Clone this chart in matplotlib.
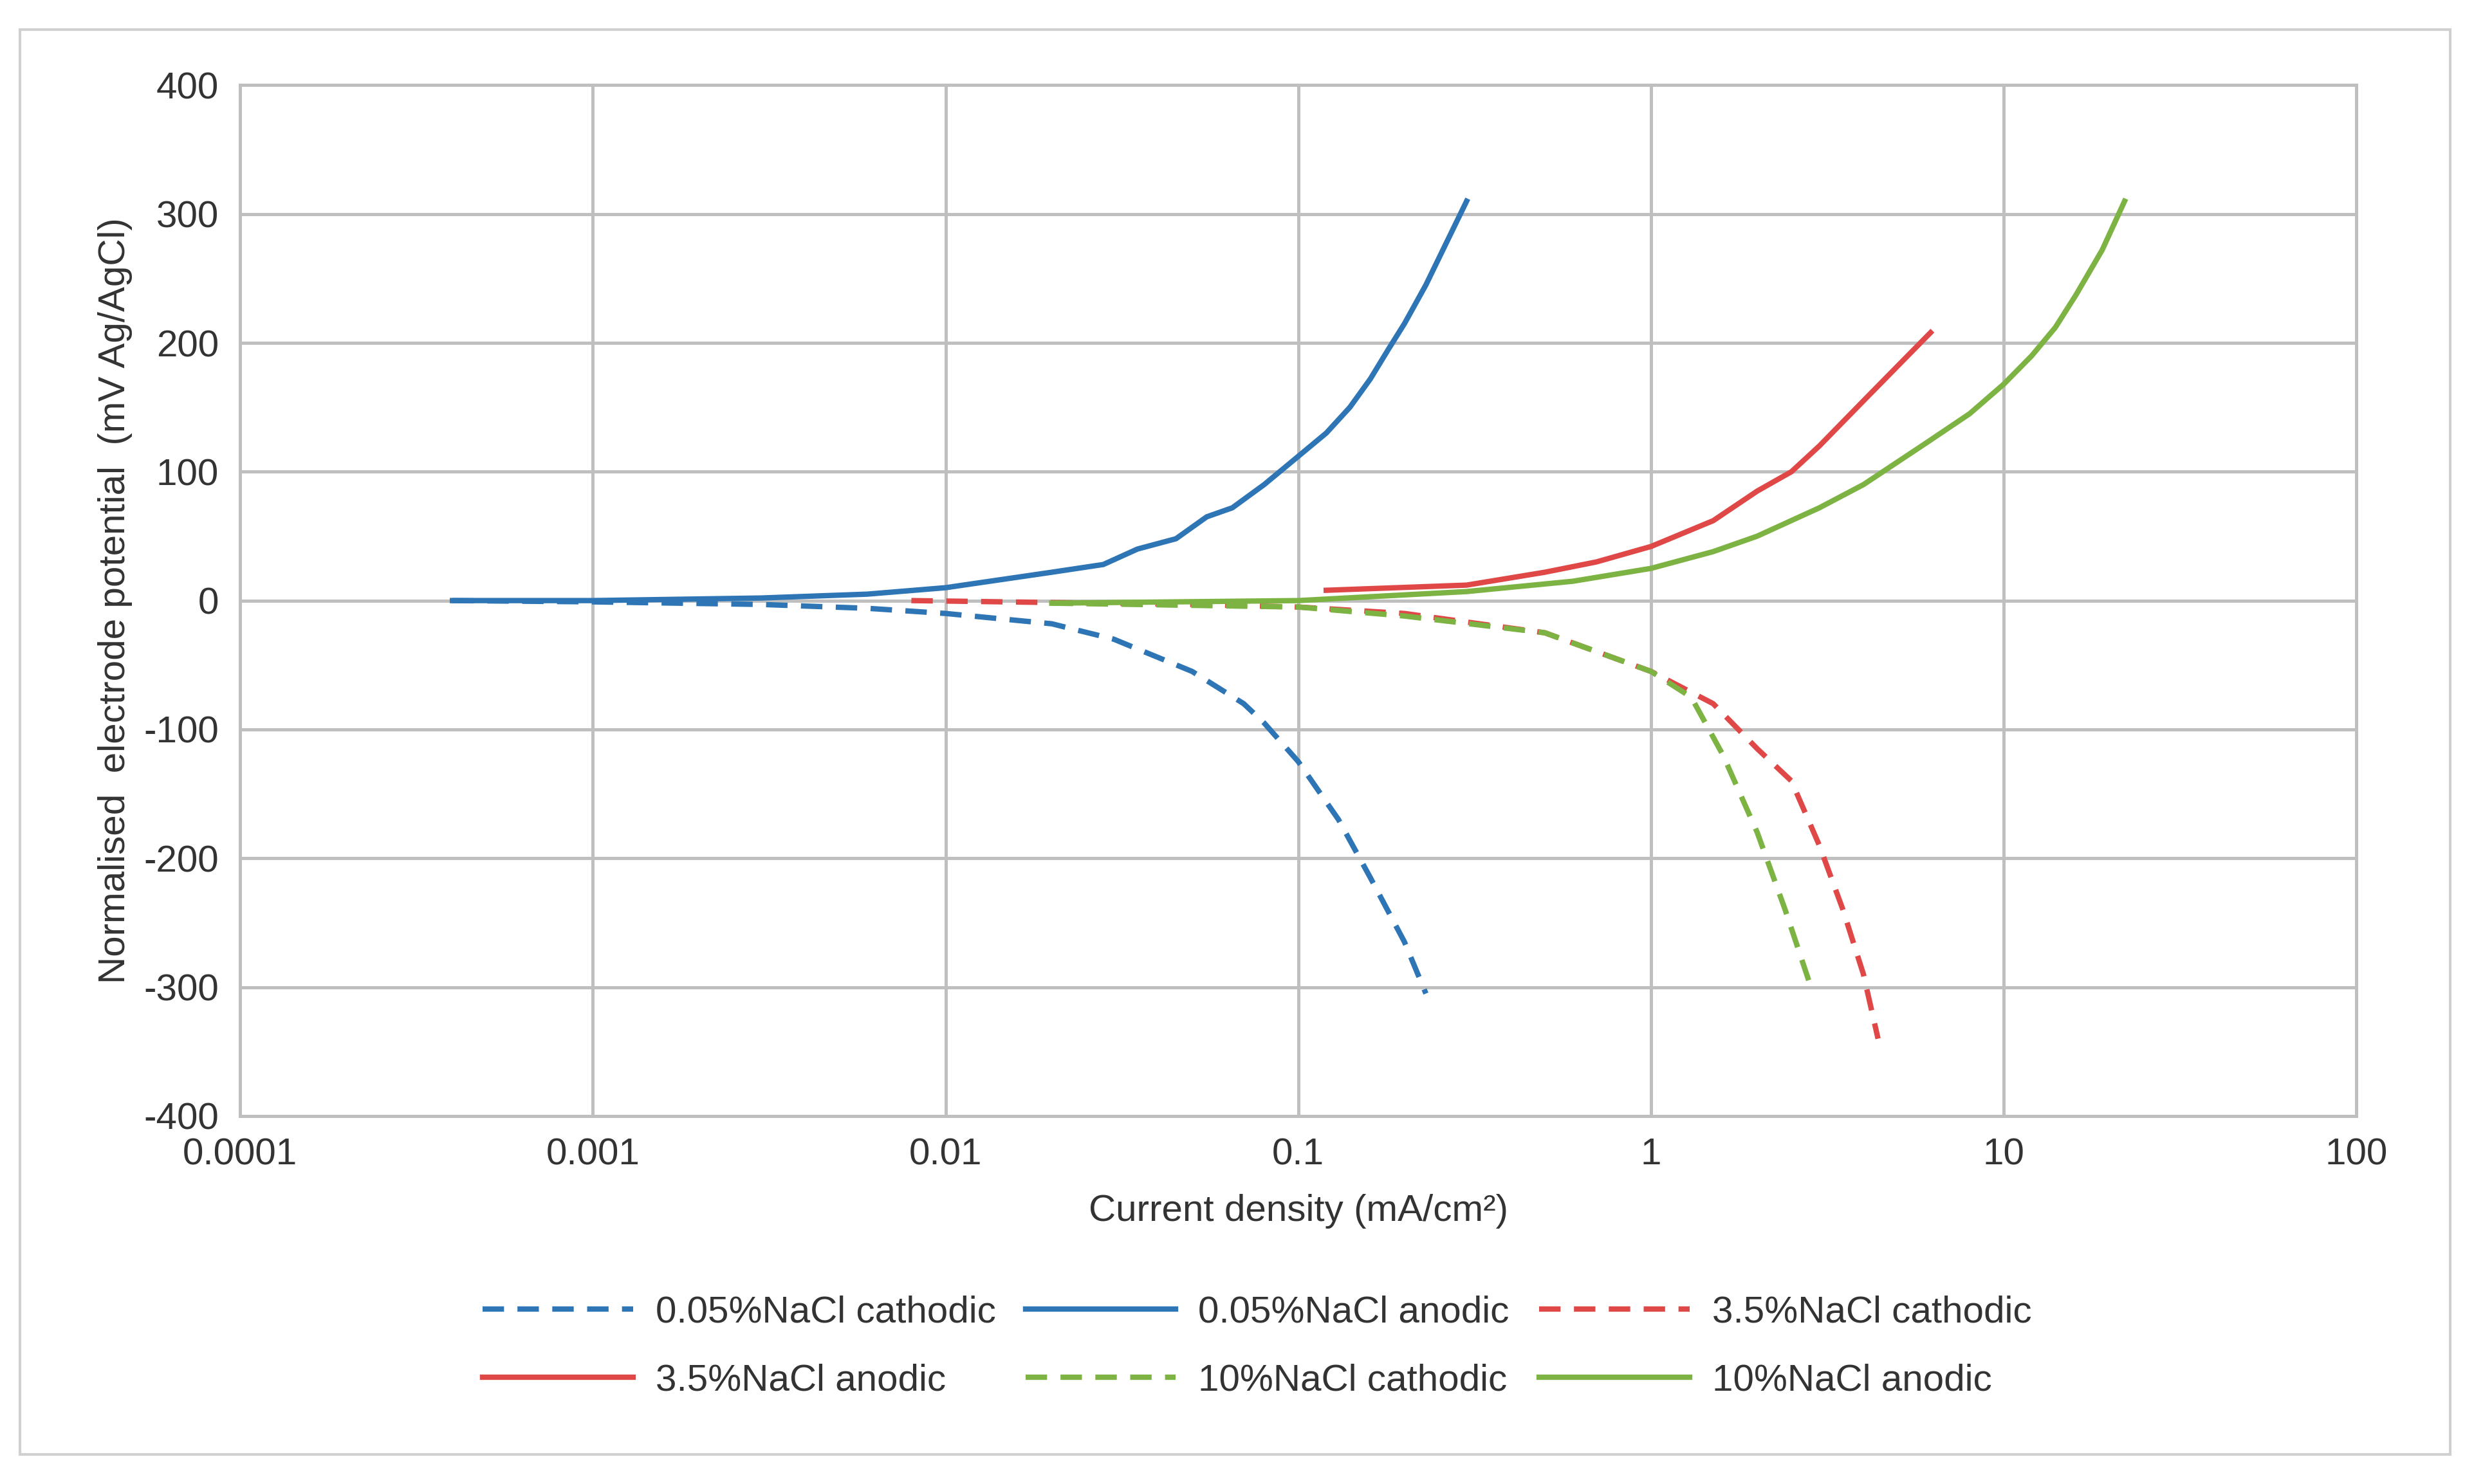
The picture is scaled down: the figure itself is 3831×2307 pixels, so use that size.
import matplotlib
matplotlib.use("Agg")
import matplotlib.pyplot as plt
from matplotlib.patches import Rectangle

plt.rcParams['font.family'] = ['Liberation Sans', 'DejaVu Sans']
plt.rcParams['axes.unicode_minus'] = False

blue = '#2E75B6'
red = '#E04848'
green = '#7CB342'

# current density (mA/cm2) and potential (mV)
c005_x = [0.0004, 0.001, 0.003, 0.006, 0.01, 0.02, 0.03, 0.05, 0.07, 0.08, 0.1, 0.13, 0.16, 0.2, 0.23]
c005_y = [0, -1, -3, -6, -10, -18, -30, -55, -80, -95, -125, -170, -215, -265, -305]
a005_x = [0.0004, 0.001, 0.003, 0.006, 0.01, 0.02, 0.028, 0.035, 0.045, 0.055, 0.065, 0.08, 0.1, 0.12,
          0.14, 0.16, 0.18, 0.2, 0.23, 0.26, 0.3]
a005_y = [0, 0, 2, 5, 10, 22, 28, 40, 48, 65, 72, 90, 112, 130, 150, 172, 195, 215, 245, 275, 310]
c35_x = [0.008, 0.05, 0.1, 0.2, 0.5, 1.0, 1.5, 2.0, 2.5, 3.0, 3.5, 4.0, 4.4]
c35_y = [0, -3, -5, -10, -25, -55, -80, -115, -140, -190, -240, -290, -340]
a35_x = [0.12, 0.3, 0.5, 0.7, 1.0, 1.5, 2.0, 2.5, 3.0, 4.0, 5.0, 6.2]
a35_y = [8, 12, 22, 30, 42, 62, 85, 100, 120, 155, 182, 208]
c10_x = [0.02, 0.1, 0.2, 0.5, 1.0, 1.3, 1.6, 2.0, 2.4, 2.8]
c10_y = [-2, -5, -12, -25, -55, -75, -120, -180, -240, -295]
a10_x = [0.02, 0.1, 0.3, 0.6, 1.0, 1.5, 2.0, 3.0, 4.0, 6.0, 8.0, 10.0, 12.0, 14.0, 16.0, 19.0, 22.0]
a10_y = [-2, 0, 7, 15, 25, 38, 50, 72, 90, 122, 145, 168, 190, 212, 237, 272, 310]

fig = plt.figure(figsize=(12.77, 7.69), dpi=300)
fig.patches.append(Rectangle((0.008, 0.02), 0.986, 0.96, transform=fig.transFigure,
                             fill=False, edgecolor='#D0D0D0', linewidth=1))
ax = fig.add_axes([0.0974, 0.248, 0.8586, 0.6946])

dash = (0, (4, 2.5))
h1, = ax.plot(c005_x, c005_y, color=blue, ls=dash, lw=2, label='0.05%NaCl cathodic')
h2, = ax.plot(a005_x, a005_y, color=blue, lw=2, label='0.05%NaCl anodic')
h3, = ax.plot(c35_x, c35_y, color=red, ls=dash, lw=2, label='3.5%NaCl cathodic')
h4, = ax.plot(a35_x, a35_y, color=red, lw=2, label='3.5%NaCl anodic')
h5, = ax.plot(c10_x, c10_y, color=green, ls=dash, lw=2, label='10%NaCl cathodic')
h6, = ax.plot(a10_x, a10_y, color=green, lw=2, label='10%NaCl anodic')

ax.set_xscale('log')
ax.set_xlim(0.0001, 100)
ax.set_ylim(-400, 400)
ax.set_yticks(range(-400, 401, 100))
ax.set_xticks([0.0001, 0.001, 0.01, 0.1, 1, 10, 100])
ax.set_xticklabels(['0.0001', '0.001', '0.01', '0.1', '1', '10', '100'])
ax.minorticks_off()
ax.grid(True, color='#BFBFBF', lw=1.2)
ax.set_axisbelow(True)
for s in ax.spines.values():
    s.set_color('#BFBFBF')
    s.set_linewidth(1.2)
ax.tick_params(length=0, labelsize=14, colors='#333333', pad=8)
ax.set_xlabel('Current density (mA/cm²)', fontsize=14, color='#333333', labelpad=8)
ax.set_ylabel('Normalised  electrode potential  (mV Ag/AgCl)', fontsize=14, color='#333333')

# row-major order as in the reference legend
handles = [h1, h4, h2, h5, h3, h6]
fig.legend(handles, [h.get_label() for h in handles], loc='lower center',
           bbox_to_anchor=(0.51, 0.035), ncol=3, frameon=False,
           fontsize=14, handlelength=4, handletextpad=0.6, columnspacing=0.8,
           labelspacing=0.9, labelcolor='#333333')

fig.savefig('out.png', dpi=300)
